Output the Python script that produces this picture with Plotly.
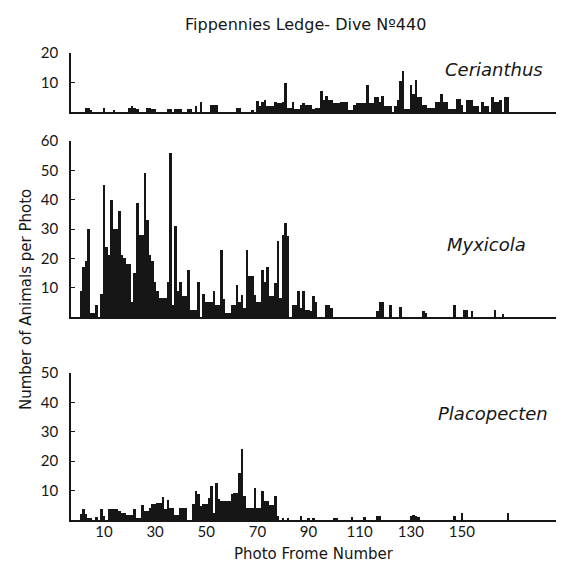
import plotly.graph_objects as go

# ---------------- data (photo frame number -> animals per photo) ----------------
cer_frames = [3, 4, 5, 10, 14, 20, 21, 22, 23, 27, 28, 29, 30, 35, 36, 38, 39, 40, 43, 44,
              46, 48, 52, 53, 54, 62, 63, 68, 70, 71, 72, 73, 74, 75, 76, 77, 78, 79, 80, 81,
              82, 83, 84, 85, 86, 87, 88, 89, 90, 91, 92, 93, 94, 95, 96, 97, 98, 99, 100,
              101, 102, 103, 104, 105, 106, 107, 108, 109, 110, 111, 112, 113, 114, 115, 116,
              117, 118, 119, 120, 121, 122, 124, 125, 126, 127, 128, 129, 130, 131, 132, 133,
              134, 135, 136, 137, 138, 139, 140, 141, 142, 143, 144, 145, 146, 147, 148, 149,
              150, 152, 153, 154, 155, 156, 158, 159, 160, 162, 163, 164, 165, 167, 168]
cer_counts = [1.3, 1.3, 0.8, 1.3, 0.7, 1.3, 2, 1.3, 1, 1.5, 1.5, 1, 1, 1, 1, 1, 1, 1, 1, 1,
              2, 3.3, 2.3, 2.3, 2.3, 1.2, 1.2, 0.8, 3.7, 2, 3.5, 4, 2, 2, 2, 3.5, 3, 3, 3.5, 10,
              1.3, 1.3, 3.5, 1, 1, 2.5, 3, 2.5, 2.3, 2.3, 1, 1.5, 1.5, 7, 4, 5.5, 4, 4, 3,
              3, 3, 3.5, 3.5, 3.5, 0.5, 0.5, 2.3, 3, 3, 3, 3, 9, 3, 3, 5,
              5, 3.3, 5.5, 2, 2, 2, 2, 4, 10.5, 14, 1, 1, 9, 6, 11, 5,
              5, 2.5, 2.5, 1.3, 1.3, 1.3, 3.3, 3.3, 6, 3.3, 3.3, 1, 1, 1, 4.5, 4.5,
              2.3, 4, 4, 4, 2, 2, 3.3, 2, 2, 5, 3.3, 3.3, 4.2, 5, 5]

myx_frames = [1, 2, 3, 4, 5, 6, 7, 9, 10, 11, 12, 13, 14, 15, 16, 17, 18, 19, 20, 21, 22, 23,
              24, 25, 26, 27, 28, 29, 30, 31, 32, 33, 34, 35, 36, 37, 38, 39, 40, 41, 42, 43,
              44, 45, 46, 47, 49, 50, 51, 52, 53, 54, 55, 56, 57, 58, 59, 60, 61, 62, 63, 64,
              65, 66, 67, 68, 69, 70, 71, 72, 73, 74, 75, 76, 77, 78, 79, 80, 81, 82, 84, 85,
              86, 87, 88, 89, 90, 91, 92, 93, 97, 98, 99, 117, 118, 119, 122, 126, 135, 136,
              147, 151, 152, 154, 163, 166]
myx_counts = [9, 17, 19, 30, 1.5, 1.5, 4, 8, 45, 24, 21, 40, 30, 30, 36, 21, 20, 18, 18, 5,
              15, 39, 28, 28, 49, 33, 21, 19, 12, 9, 6.5, 6.5, 6.5, 12, 56, 4, 31, 9, 12, 7,
              7, 16, 2.5, 2.5, 2.5, 12, 8, 5, 5, 5, 9, 4, 4, 23, 6, 1.5, 1.5, 4, 4, 11, 5,
              7.5, 3, 23, 14, 14, 7.5, 5, 5, 16, 12, 17, 7, 7, 11.5, 26, 6.5, 28, 32, 27.5,
              4, 4, 9, 3, 9, 2.5, 2.5, 2, 7, 5, 4, 4, 3, 2, 5, 5, 4, 3.5, 2, 1.5,
              4, 2.5, 2.5, 2, 2.5, 1]

pla_frames = [1, 2, 3, 4, 5, 7, 9, 10, 12, 13, 14, 15, 16, 17, 18, 19, 20, 21, 22, 23, 24,
              25, 26, 27, 28, 29, 30, 31, 32, 33, 34, 35, 36, 37, 38, 39, 40, 41, 42, 45, 46,
              47, 48, 49, 50, 51, 52, 53, 54, 55, 56, 57, 58, 59, 60, 61, 62, 63, 64, 65, 66,
              67, 68, 69, 70, 71, 72, 73, 74, 75, 76, 77, 78, 80, 82, 87, 90, 92, 100, 101,
              107, 112, 117, 118, 130, 131, 132, 133, 147, 150, 168]
pla_counts = [2.2, 3.6, 2, 0.8, 0.8, 1, 3.6, 1.3, 3.6, 3.6, 3.6, 3.6, 3, 2.5, 2.5, 1.6, 1.6,
              1.6, 3.6, 0.8, 0.8, 5.2, 3, 3, 4.2, 5.3, 5.3, 5.8, 5.8, 7.9, 3.6, 6.8, 4.2,
              4.2, 1.6, 1.6, 4.2, 4.2, 4.2, 5.3, 10, 8.7, 4.8, 5.3, 5.3, 7.6, 11.7, 2.5, 12.7,
              7, 6.5, 6.5, 6.5, 6.5, 8.7, 9.3, 9.3, 16.1, 24, 8.2, 4.2, 4.2, 4.2, 11, 4.2,
              4.2, 10, 6.5, 6.5, 5, 5, 8.2, 1.4, 0.8, 0.6, 1.3, 0.5, 0.5, 0.8, 0.8,
              0.9, 1.1, 1.2, 1.2, 1.3, 1.8, 1.5, 1, 1.5, 2.3, 2.4]

species = ["Cerianthus", "Myxicola", "Placopecten"]
species_xy_px = [(486, 61), (478, 236), (485, 405)]
x_ticks = [10, 30, 50, 70, 90, 110, 130, 150]
cer_yticks = [10, 20]
myx_yticks = [10, 20, 30, 40, 50, 60]
pla_yticks = [10, 20, 30, 40, 50]

title_text = "Fippennies Ledge- Dive N\u00ba440"
y_title = "Number of Animals per Photo"
x_title = "Photo Frome Number"

# ---------------- figure ----------------
INK = "#161616"
NUMFONT = "Lato"
TXTFONT = "DejaVu Sans"
W, H = 575, 563
ML, MR, MT, MB = 63, 27, 45, 51
PW, PH = W - ML - MR, H - MT - MB

fig = go.Figure()
for frames, counts, ax in [(cer_frames, cer_counts, ""), (myx_frames, myx_counts, "2"),
                           (pla_frames, pla_counts, "3")]:
    fig.add_trace(go.Bar(x=frames, y=counts, width=1.0,
                         marker=dict(color=INK, line=dict(width=0)),
                         xaxis="x" + ax, yaxis="y" + ax, showlegend=False, hoverinfo="x+y"))

xr = [-2.9, 186.8]
common_x = dict(range=xr, showgrid=False, zeroline=False, showline=True, linecolor=INK,
                linewidth=1.5, ticks="")
common_y = dict(showgrid=False, zeroline=False, showline=True, linecolor=INK, linewidth=1.5,
                ticks="inside", ticklen=4, tickwidth=1.2, tickcolor=INK,
                ticklabelstandoff=8,
                tickfont=dict(family=NUMFONT, size=15, color=INK))


def dom(top_px, bottom_px):
    return [(H - MB - bottom_px) / PH, (H - MB - top_px) / PH]


fig.update_layout(
    width=W, height=H,
    margin=dict(l=ML, r=MR, t=MT, b=MB),
    paper_bgcolor="white", plot_bgcolor="white",
    bargap=0, barmode="overlay",
    xaxis=dict(common_x, domain=[0, 1], anchor="y", showticklabels=False),
    xaxis2=dict(common_x, domain=[0, 1], anchor="y2", showticklabels=False, matches="x"),
    xaxis3=dict(common_x, domain=[0, 1], anchor="y3", matches="x",
                tickvals=x_ticks, ticktext=[str(v) for v in x_ticks], ticklabelstandoff=-3,
                tickfont=dict(family=NUMFONT, size=15, color=INK),
                title=dict(text=x_title, font=dict(family=TXTFONT, size=15, color=INK),
                           standoff=10)),
    yaxis=dict(common_y, domain=dom(45, 104), range=[0, 20], tickvals=cer_yticks, anchor="x"),
    yaxis2=dict(common_y, domain=dom(133, 309), range=[0, 60], tickvals=myx_yticks, anchor="x2"),
    yaxis3=dict(common_y, domain=dom(365, 512), range=[0, 50], tickvals=pla_yticks, anchor="x3"),
)

fig.add_annotation(text=title_text, xref="paper", yref="paper",
                   x=(297 - ML) / PW, y=(H - MB - 17) / PH,
                   showarrow=False, xanchor="center", yanchor="middle",
                   font=dict(family=TXTFONT, size=16, color=INK))
fig.add_annotation(text=y_title, xref="paper", yref="paper",
                   x=(18 - ML) / PW, y=(H - MB - 292) / PH, textangle=-90,
                   showarrow=False, xanchor="center", yanchor="middle",
                   font=dict(family=TXTFONT, size=15, color=INK))

for name, (xp, yp) in zip(species, species_xy_px):
    fig.add_annotation(text="<i>" + name + "</i>", xref="paper", yref="paper",
                       x=(xp - ML) / PW, y=(H - MB - yp) / PH, showarrow=False,
                       xanchor="center", yanchor="middle",
                       font=dict(family=TXTFONT, size=18, color=INK))

fig.write_html("out.html")
